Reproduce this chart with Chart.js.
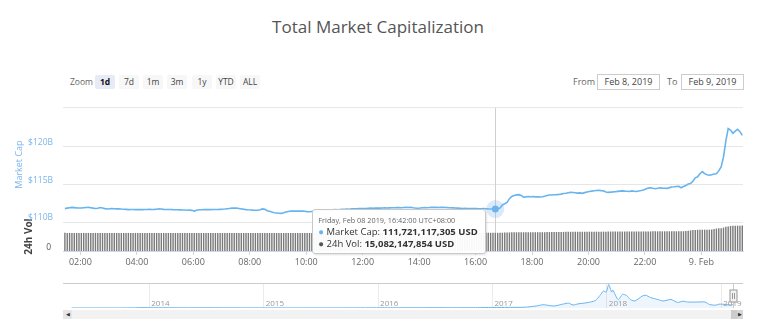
<!DOCTYPE html>
<html>
<head>
<meta charset="utf-8">
<title>Total Market Capitalization</title>
<script src="https://cdn.jsdelivr.net/npm/chart.js@4.4.1/dist/chart.umd.min.js"></script>
<style>
  body { margin: 0; width: 768px; height: 322px; background: #fff; font-family: "Open Sans", sans-serif; position: relative; overflow: hidden; }
  #title { position: absolute; left: -6px; top: 15px; width: 768px; text-align: center; font-size: 17px; color: #555; }
  .zoom-label { position: absolute; left: 70px; top: 75px; font-size: 8.5px; line-height: 14px; color: #666; }
  .btn { position: absolute; top: 75px; width: 20px; height: 14px; line-height: 14px; text-align: center; font-size: 8.5px; color: #444; background: #f7f7f7; border-radius: 2px; }
  .btn.active { background: #e6ebf5; font-weight: bold; color: #111; }
  .lbl { position: absolute; top: 75px; font-size: 9px; line-height: 14px; color: #666; }
  .date { position: absolute; top: 74px; height: 14px; border: 1px solid #ccc; font-size: 9px; line-height: 14px; color: #444; text-align: center; box-sizing: content-box; }
  #main { position: absolute; left: 0; top: 90px; }
  #nav { position: absolute; left: 0; top: 283px; }
  #tip { position: absolute; background: rgba(255,255,255,0.94); border: 1px solid #c8c8c8; border-radius: 3px; box-shadow: 1px 1px 2px rgba(0,0,0,0.12); padding: 4px 7px 4px 5px; color: #333; font-size: 9.5px; white-space: nowrap; display: none; }
  #tip .t-date { font-size: 7.3px; color: #666; line-height: 12px; }
  #tip .t-row { line-height: 11.5px; }
  #tip b { font-weight: bold; }
  .track { position: absolute; left: 63px; top: 310px; width: 680px; height: 9px; background: #f2f2f2; }
  .sb-btn { position: absolute; top: 310px; width: 9px; height: 9px; background: #e6e6e6; border: 0; font-size: 5px; line-height: 9px; text-align: center; color: #333; }
  .sb-thumb { position: absolute; left: 731px; top: 310px; width: 6px; height: 9px; background: #cccccc; }
</style>
</head>
<body>
<div id="title">Total Market Capitalization</div>

<div class="zoom-label">Zoom</div>
<div class="btn active" style="left:95px">1d</div>
<div class="btn" style="left:119px">7d</div>
<div class="btn" style="left:143px">1m</div>
<div class="btn" style="left:167px">3m</div>
<div class="btn" style="left:192px">1y</div>
<div class="btn" style="left:216px">YTD</div>
<div class="btn" style="left:240px">ALL</div>

<div class="lbl" style="left:573px">From</div>
<div class="date" style="left:597px; width:61px">Feb 8, 2019</div>
<div class="lbl" style="left:667px">To</div>
<div class="date" style="left:681px; width:61px">Feb 9, 2019</div>

<canvas id="main" width="768" height="185"></canvas>
<canvas id="nav" width="768" height="25"></canvas>

<div class="track"></div>
<div class="sb-btn" style="left:63px">&#9664;</div>
<div class="sb-thumb"></div>
<div class="sb-btn" style="left:737px; width:6px; background:#d6d6d6">&#9654;</div>

<div id="tip"></div>

<script>
// 5-minute samples, Feb 8 2019 01:27 -> Feb 9 2019 01:27 (UTC+8)
const START_MIN = 87;   // 01:27 in minutes after midnight Feb 8
const STEP_MIN = 5;
const HOVER_INDEX = 183; // 16:42

// Market cap, billions USD
const marketCap = [
  111.78, 111.84, 111.90, 111.94, 111.91, 111.88, 111.86, 111.86, 111.89, 111.92, 111.94, 111.90,
  111.84, 111.80, 111.82, 111.92, 111.86, 111.78, 111.73, 111.76, 111.78, 111.77, 111.74, 111.76,
  111.72, 111.70, 111.68, 111.65, 111.67, 111.66, 111.64, 111.66, 111.65, 111.65, 111.67, 111.66,
  111.68, 111.67, 111.68, 111.70, 111.74, 111.72, 111.68, 111.66, 111.67, 111.66, 111.64, 111.63,
  111.62, 111.61, 111.60, 111.59, 111.57, 111.58, 111.55, 111.45, 111.56, 111.62, 111.63, 111.64,
  111.65, 111.64, 111.65, 111.66, 111.67, 111.66, 111.68, 111.69, 111.72, 111.76, 111.80, 111.84,
  111.86, 111.84, 111.80, 111.74, 111.70, 111.65, 111.62, 111.60, 111.58, 111.57, 111.57, 111.62,
  111.74, 111.70, 111.50, 111.42, 111.32, 111.24, 111.20, 111.16, 111.15, 111.22, 111.32, 111.40,
  111.45, 111.46, 111.44, 111.45, 111.46, 111.45, 111.42, 111.38, 111.36, 111.40, 111.44, 111.46,
  111.50, 111.52, 111.55, 111.58, 111.56, 111.60, 111.62, 111.64, 111.62, 111.65, 111.68, 111.70,
  111.72, 111.70, 111.74, 111.76, 111.74, 111.78, 111.80, 111.78, 111.80, 111.82, 111.84, 111.82,
  111.84, 111.86, 111.85, 111.87, 111.88, 111.86, 111.88, 111.90, 111.89, 111.91, 111.92, 111.90,
  111.92, 111.94, 111.93, 111.95, 111.90, 111.86, 111.83, 111.86, 111.90, 111.92, 111.90, 111.93,
  111.95, 111.96, 111.94, 111.92, 111.94, 111.95, 111.93, 111.91, 111.90, 111.88, 111.86, 111.84,
  111.82, 111.80, 111.81, 111.79, 111.80, 111.78, 111.80, 111.79, 111.77, 111.76, 111.78, 111.76,
  111.74, 111.73, 111.72, 111.721117305, 111.78, 111.86, 112.27, 112.42, 112.60, 113.10, 113.40, 113.51,
  113.60, 113.63, 113.51, 113.31, 113.34, 113.38, 113.36, 113.39, 113.34, 113.33, 113.31, 113.36,
  113.43, 113.52, 113.59, 113.58, 113.61, 113.63, 113.66, 113.70, 113.78, 113.82, 113.88, 113.93,
  113.92, 113.88, 113.84, 113.86, 113.80, 113.90, 113.98, 114.05, 114.10, 114.15, 114.18, 114.21,
  114.16, 114.13, 113.98, 113.93, 113.96, 114.00, 114.02, 114.06, 114.10, 114.13, 114.10, 114.08,
  114.05, 114.13, 114.09, 114.05, 114.12, 114.18, 114.25, 114.38, 114.50, 114.55, 114.48, 114.42,
  114.48, 114.55, 114.50, 114.48, 114.46, 114.56, 114.64, 114.67, 114.72, 114.75, 114.55, 114.70,
  114.83, 115.04, 115.12, 115.40, 115.86, 115.99, 116.40, 116.69, 116.41, 116.26, 116.20, 116.28,
  116.36, 116.41, 116.78, 117.30, 118.60, 120.74, 122.39, 122.20, 121.77, 122.06, 122.30, 121.98,
  121.49
];

// 24h volume, billions USD
const volume24h = [
  15.12, 14.95, 14.98, 14.96, 15.00, 14.97, 14.99, 14.95, 14.98, 14.96, 14.97, 14.95,
  14.96, 14.98, 14.95, 14.97, 14.94, 14.96, 14.98, 14.95, 14.96, 14.97, 14.94, 14.95,
  14.96, 14.93, 14.95, 14.97, 14.94, 14.95, 14.96, 14.93, 14.95, 14.94, 14.96, 14.93,
  14.94, 14.95, 14.93, 14.96, 14.94, 14.92, 14.95, 14.93, 14.94, 14.96, 14.93, 14.94,
  14.95, 14.92, 14.94, 14.93, 14.95, 14.92, 14.94, 14.93, 14.91, 14.94, 14.92, 14.93,
  14.94, 14.92, 14.93, 14.95, 14.92, 14.94, 14.93, 14.95, 14.97, 14.94, 14.96, 14.98,
  14.96, 14.97, 14.95, 14.96, 14.94, 14.95, 14.93, 14.94, 14.92, 14.93, 14.91, 14.92,
  14.94, 14.92, 14.90, 14.92, 14.89, 14.91, 14.88, 14.90, 14.89, 14.91, 14.92, 14.90,
  14.92, 14.91, 14.93, 14.90, 14.92, 14.91, 14.93, 14.90, 14.92, 14.94, 14.91, 14.93,
  14.95, 14.92, 14.94, 14.96, 14.93, 14.95, 14.97, 14.94, 14.96, 14.98, 14.95, 14.97,
  14.99, 14.96, 14.98, 15.00, 14.97, 14.99, 15.01, 14.98, 15.00, 15.02, 14.99, 15.01,
  15.03, 15.00, 15.02, 15.04, 15.01, 15.03, 15.05, 15.02, 15.04, 15.06, 15.03, 15.05,
  15.07, 15.04, 15.06, 15.08, 15.05, 15.07, 15.09, 15.06, 15.08, 15.10, 15.07, 15.09,
  15.08, 15.06, 15.09, 15.07, 15.10, 15.08, 15.06, 15.09, 15.07, 15.05, 15.08, 15.06,
  15.07, 15.05, 15.08, 15.06, 15.09, 15.07, 15.05, 15.08, 15.06, 15.07, 15.05, 15.06,
  15.04, 15.07, 15.05, 15.082147854, 15.06, 15.10, 15.18, 15.26, 15.33, 15.40, 15.46, 15.50,
  15.52, 15.55, 15.53, 15.56, 15.54, 15.57, 15.55, 15.58, 15.56, 15.59, 15.57, 15.60,
  15.62, 15.64, 15.67, 15.70, 15.72, 15.75, 15.78, 15.80, 15.83, 15.86, 15.88, 15.90,
  15.92, 15.94, 15.93, 15.95, 15.97, 15.96, 15.98, 16.00, 15.99, 16.01, 16.03, 16.02,
  16.04, 16.06, 16.05, 16.07, 16.09, 16.08, 16.10, 16.12, 16.11, 16.13, 16.15, 16.14,
  16.16, 16.18, 16.17, 16.19, 16.21, 16.20, 16.22, 16.24, 16.23, 16.25, 16.27, 16.26,
  16.28, 16.30, 16.29, 16.31, 16.33, 16.32, 16.34, 16.36, 16.35, 16.37, 16.39, 16.40,
  16.55, 16.80, 17.10, 17.35, 17.50, 17.58, 17.62, 17.65, 17.68, 17.70, 17.72, 17.75,
  18.20, 18.60, 18.75, 18.85, 19.40, 20.00, 20.30, 20.70, 20.85, 20.90, 20.95, 21.00,
  21.05
];

// axis ticks
const timeTickMinutes = [120, 240, 360, 480, 600, 720, 840, 960, 1080, 1200, 1320, 1440];
const timeTickLabels = ["02:00", "04:00", "06:00", "08:00", "10:00", "12:00", "14:00", "16:00", "18:00", "20:00", "22:00", "9. Feb"];
const capTicks = [110, 115, 120];
const capTickLabels = ["$110B", "$115B", "$120B"];

// navigator: whole history, billions USD
const navDates = [
  "2013-04-28", "2013-07-01", "2013-10-01", "2013-11-15", "2013-12-04", "2014-01-01", "2014-03-01", "2014-05-01",
  "2014-07-01", "2014-09-01", "2014-11-01", "2015-01-01", "2015-03-01", "2015-05-01", "2015-07-01", "2015-09-01",
  "2015-11-01", "2016-01-01", "2016-03-01", "2016-05-01", "2016-07-01", "2016-09-01", "2016-11-01", "2017-01-01",
  "2017-03-01", "2017-04-15", "2017-05-20", "2017-06-12", "2017-07-16", "2017-08-15", "2017-09-01", "2017-09-15",
  "2017-10-01", "2017-11-01", "2017-11-25", "2017-12-10", "2017-12-21", "2017-12-30", "2018-01-07", "2018-01-16",
  "2018-01-20", "2018-02-06", "2018-02-20", "2018-03-05", "2018-03-18", "2018-04-01", "2018-04-24", "2018-05-05",
  "2018-05-20", "2018-06-15", "2018-06-29", "2018-07-25", "2018-08-14", "2018-09-01", "2018-09-15", "2018-10-15",
  "2018-11-10", "2018-11-25", "2018-12-15", "2018-12-25", "2019-01-10", "2019-01-20", "2019-02-01", "2019-02-09"
];
const navCaps = [
  1.5, 1.2, 1.7, 6.0, 15.0, 10.5, 8.0, 6.5,
  8.5, 6.5, 5.0, 4.5, 3.8, 3.5, 4.2, 3.8,
  5.0, 7.0, 7.5, 8.5, 10.5, 9.5, 10.5, 18.0,
  22.0, 28.0, 70.0, 115.0, 70.0, 140.0, 170.0, 105.0,
  145.0, 190.0, 260.0, 440.0, 600.0, 560.0, 830.0, 560.0,
  630.0, 290.0, 480.0, 440.0, 290.0, 250.0, 420.0, 450.0,
  370.0, 290.0, 245.0, 300.0, 195.0, 240.0, 210.0, 210.0,
  212.0, 120.0, 100.0, 135.0, 130.0, 118.0, 108.0, 121.0
];
const navYears = [2014, 2015, 2016, 2017, 2018, 2019];

const LINE_BLUE = "#68b4ee";
const LABEL_BLUE = "#7cb5ec";

function decimalYear(s) {
  const p = s.split("-").map(Number);
  const d0 = Date.UTC(p[0], 0, 1);
  const d = Date.UTC(p[0], p[1] - 1, p[2]);
  return p[0] + (d - d0) / (365 * 86400000);
}

const capPoints = marketCap.map((v, i) => ({ x: START_MIN + i * STEP_MIN, y: v * 1e9 }));
const volPoints = volume24h.map((v, i) => ({ x: START_MIN + i * STEP_MIN, y: v * 1e9 }));

function fmtTime(min) {
  const h = Math.floor(min / 60), m = min % 60;
  return String(h).padStart(2, "0") + ":" + String(m).padStart(2, "0") + ":00";
}

// tooltip drawn as html, fed by chart.js tooltip state
function externalTip(context) {
  const tip = context.tooltip;
  const box = document.getElementById("tip");
  if (!tip.dataPoints || !tip.dataPoints.length) { box.style.display = "none"; return; }
  const cap = tip.dataPoints.find(d => d.datasetIndex === 0);
  const vol = tip.dataPoints.find(d => d.datasetIndex === 1);
  box.innerHTML =
    '<div class="t-date">Friday, Feb 08 2019, ' + fmtTime(cap.parsed.x) + ' UTC+08:00</div>' +
    '<div class="t-row"><span style="color:' + LINE_BLUE + '">\u25CF</span> Market Cap: <b>' + Math.round(cap.parsed.y).toLocaleString("en-US") + ' USD</b></div>' +
    '<div class="t-row"><span style="color:#555">\u25CF</span> 24h Vol: <b>' + Math.round(vol.parsed.y).toLocaleString("en-US") + ' USD</b></div>';
  box.style.display = "block";
  const canvas = context.chart.canvas;
  const px = cap.element.x, py = cap.element.y;
  box.style.left = (canvas.offsetLeft + px - 10 - box.offsetWidth) + "px";
  box.style.top = (canvas.offsetTop + py) + "px";
}

// vertical crosshair at hovered point
const crosshair = {
  id: "crosshair",
  beforeDatasetsDraw(chart) {
    const el = chart.getDatasetMeta(0).data[HOVER_INDEX];
    if (!el) return;
    const { top, bottom } = chart.chartArea;
    const ctx = chart.ctx;
    ctx.save();
    ctx.strokeStyle = "#d0d0d0";
    ctx.lineWidth = 1;
    ctx.beginPath();
    ctx.moveTo(Math.round(el.x) + 0.5, top);
    ctx.lineTo(Math.round(el.x) + 0.5, bottom);
    ctx.stroke();
    ctx.restore();
  }
};

// top border of the price pane
const paneTop = {
  id: "paneTop",
  beforeDatasetsDraw(chart) {
    const { left, right, top } = chart.chartArea;
    const ctx = chart.ctx;
    ctx.save();
    ctx.strokeStyle = "#e6e6e6";
    ctx.beginPath();
    ctx.moveTo(left, top + 0.5);
    ctx.lineTo(right, top + 0.5);
    ctx.stroke();
    ctx.restore();
  }
};

const mainChart = new Chart(document.getElementById("main"), {
  type: "bar",
  data: {
    datasets: [
      {
        type: "line",
        label: "Market Cap",
        data: capPoints,
        yAxisID: "y",
        borderColor: LINE_BLUE,
        borderWidth: 1.6,
        tension: 0,
        pointRadius: ctx => ctx.dataIndex === HOVER_INDEX ? 3.5 : 0,
        pointBorderWidth: ctx => ctx.dataIndex === HOVER_INDEX ? 11 : 0,
        pointBackgroundColor: LINE_BLUE,
        pointBorderColor: "rgba(124,181,236,0.28)",
        order: 0
      },
      {
        type: "bar",
        label: "24h Vol",
        data: volPoints,
        yAxisID: "yVol",
        backgroundColor: "#7a7a7a",
        barPercentage: 1,
        categoryPercentage: 0.6,
        order: 1
      }
    ]
  },
  options: {
    responsive: false,
    animation: false,
    events: [],
    layout: { padding: { top: 7, right: 25, left: 0, bottom: 0 } },
    plugins: {
      legend: { display: false },
      tooltip: { enabled: false, external: externalTip }
    },
    scales: {
      x: {
        type: "linear",
        min: 83,
        max: 1528.5,
        offset: false,
        afterFit: a => { a.height = 24; },
        afterBuildTicks: a => { a.ticks = timeTickMinutes.map(v => ({ value: v })); },
        grid: { drawOnChartArea: false, offset: false, tickLength: 4, color: "#ccd6eb" },
        border: { color: "#ccd6eb" },
        ticks: {
          autoSkip: false,
          maxRotation: 0,
          color: "#666",
          font: { size: 9, family: "Open Sans" },
          padding: 2,
          callback: v => timeTickLabels[timeTickMinutes.indexOf(v)]
        }
      },
      // volume pane listed first so the price pane stacks on top
      yVol: {
        type: "linear",
        position: "left",
        stack: "panes",
        stackWeight: 31,
        min: 0,
        max: 24e9,
        afterFit: a => { a.width = 63; },
        afterBuildTicks: a => { a.ticks = [{ value: 0 }]; },
        grid: { display: false, drawTicks: false },
        border: { display: false },
        ticks: {
          color: "#555",
          font: { size: 8.5, family: "Open Sans" },
          padding: 12,
          labelOffset: -3,
          callback: () => "0"
        },
        title: { display: true, text: "24h Vol", color: "#444", font: { size: 10, family: "Open Sans", weight: "bold" }, padding: { top: 23 } }
      },
      y: {
        type: "linear",
        position: "left",
        stack: "panes",
        stackWeight: 123,
        min: 110e9,
        max: 125.24e9,
        afterFit: a => { a.width = 63; },
        afterBuildTicks: a => { a.ticks = capTicks.map(v => ({ value: v * 1e9 })); },
        grid: { color: "#e6e6e6", drawTicks: false },
        border: { display: false },
        ticks: {
          color: LABEL_BLUE,
          font: { size: 8.5, family: "Open Sans" },
          padding: 10,
          labelOffset: -4,
          callback: v => capTickLabels[capTicks.indexOf(Math.round(v / 1e9))]
        },
        title: { display: true, text: "Market Cap", color: LABEL_BLUE, font: { size: 9, family: "Open Sans" }, padding: { top: 14.5 } }
      }
    }
  },
  plugins: [crosshair, paneTop]
});

mainChart.tooltip.setActiveElements(
  [{ datasetIndex: 0, index: HOVER_INDEX }, { datasetIndex: 1, index: HOVER_INDEX }],
  { x: 0, y: 0 }
);

// navigator: year labels inside the plot, outline and handle
const navDecor = {
  id: "navDecor",
  afterDatasetsDraw(chart) {
    const { left, right, top, bottom } = chart.chartArea;
    const ctx = chart.ctx;
    const xs = chart.scales.x;
    ctx.save();
    ctx.fillStyle = "#999";
    ctx.font = "8px 'Open Sans'";
    ctx.textBaseline = "alphabetic";
    ctx.textAlign = "left";
    navYears.forEach(yr => {
      ctx.fillText(String(yr), xs.getPixelForValue(yr) + 2, bottom - 2);
    });
    const hx = Math.round(xs.getPixelForValue(decimalYear(navDates[navDates.length - 1]))) + 0.5;
    ctx.strokeStyle = "#cccccc";
    ctx.lineWidth = 1;
    ctx.beginPath();
    ctx.moveTo(left, top + 0.5);
    ctx.lineTo(right, top + 0.5);
    ctx.moveTo(hx, top);
    ctx.lineTo(hx, bottom);
    ctx.stroke();
    ctx.fillStyle = "#f2f2f2";
    ctx.strokeStyle = "#999";
    ctx.fillRect(hx - 3.5, top + 7, 7, 12);
    ctx.strokeRect(hx - 3.5, top + 7, 7, 12);
    ctx.beginPath();
    ctx.moveTo(hx - 1, top + 10);
    ctx.lineTo(hx - 1, top + 16);
    ctx.moveTo(hx + 1, top + 10);
    ctx.lineTo(hx + 1, top + 16);
    ctx.stroke();
    ctx.restore();
  }
};

new Chart(document.getElementById("nav"), {
  type: "line",
  data: {
    datasets: [{
      data: navCaps.map((v, i) => ({ x: decimalYear(navDates[i]), y: v })),
      borderColor: LINE_BLUE,
      borderWidth: 1,
      backgroundColor: "rgba(124,181,236,0.13)",
      fill: "origin",
      pointRadius: 0,
      tension: 0.2
    }]
  },
  options: {
    responsive: false,
    animation: false,
    events: [],
    layout: { padding: { left: 63, right: 25, top: 0, bottom: 0 } },
    plugins: { legend: { display: false }, tooltip: { enabled: false } },
    scales: {
      x: {
        type: "linear",
        min: 2013.246,
        max: 2019.19,
        afterFit: a => { a.height = 0; },
        afterBuildTicks: a => { a.ticks = navYears.map(v => ({ value: v })); },
        grid: { color: "#ebebeb", drawTicks: false },
        border: { display: false },
        ticks: { display: false }
      },
      y: { display: false, min: 0, max: 880 }
    }
  },
  plugins: [navDecor]
});
</script>
</body>
</html>
